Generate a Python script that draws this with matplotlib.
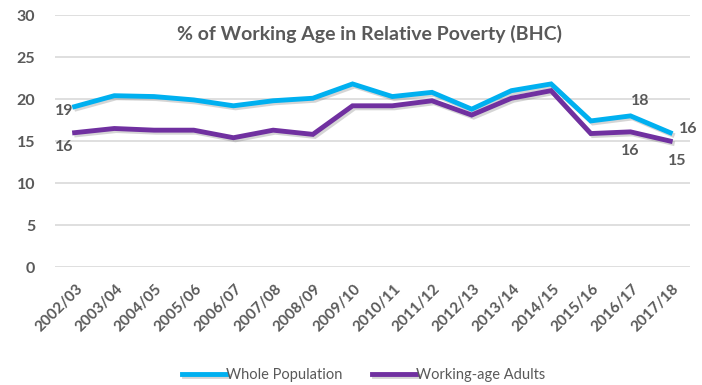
import matplotlib
matplotlib.use("Agg")
import matplotlib.pyplot as plt
import matplotlib.patheffects as pe
from matplotlib.transforms import ScaledTranslation

years = ["2002/03", "2003/04", "2004/05", "2005/06", "2006/07", "2007/08",
         "2008/09", "2009/10", "2010/11", "2011/12", "2012/13", "2013/14",
         "2014/15", "2015/16", "2016/17", "2017/18"]
whole_population = [19.1, 20.4, 20.3, 19.9, 19.2, 19.8, 20.1, 21.8,
                    20.3, 20.8, 18.8, 21.0, 21.8, 17.4, 18.0, 16.0]
working_age = [16.0, 16.5, 16.3, 16.3, 15.4, 16.3, 15.8, 19.2,
               19.2, 19.8, 18.1, 20.1, 21.0, 15.9, 16.1, 15.0]
y_ticks = [0, 5, 10, 15, 20, 25, 30]

title = "% of Working Age in Relative Poverty (BHC)"
blue = "#00B0F0"
purple = "#7030A0"
grey = "#595959"

plt.rcParams["font.family"] = ["Lato", "DejaVu Sans"]

fig = plt.figure(figsize=(7.02, 3.85), dpi=100)
ax = fig.add_axes([0.078, 0.306, 0.905, 0.655])

x = list(range(len(years)))
shadow = [pe.SimpleLineShadow(offset=(1.5, -1.5), shadow_color="#777777", alpha=0.3),
          pe.Normal()]
ax.plot(x, whole_population, color=blue, lw=3.5, solid_joinstyle="miter",
        label="Whole Population", path_effects=shadow, zorder=3)
ax.plot(x, working_age, color=purple, lw=3.5, solid_joinstyle="miter",
        label="Working-age Adults", path_effects=shadow, zorder=3)

ax.set_xlim(-0.5, len(years) - 0.5)
ax.set_ylim(0, 30)
ax.set_yticks(y_ticks)
ax.set_xticks(x)
ax.set_xticklabels(years, rotation=45, ha="right", va="center",
                   rotation_mode="anchor")
ax.tick_params(axis="both", length=0, colors=grey)
ax.tick_params(axis="y", pad=14, labelsize=11.5)
ax.tick_params(axis="x", pad=14, labelsize=11)
shift = ScaledTranslation(6 / 100, 0, fig.dpi_scale_trans)
for lbl in ax.get_xticklabels():
    lbl.set_fontweight("bold")
    lbl.set_transform(lbl.get_transform() + shift)
for lbl in ax.get_yticklabels():
    lbl.set_fontweight("bold")
ax.grid(axis="y", color="#D9D9D9", lw=1.2)
ax.set_axisbelow(True)
for s in ax.spines.values():
    s.set_visible(False)


def label(series, i, dx, dy, ha="center", va="center"):
    ax.annotate(f"{series[i]:.0f}", (x[i], series[i]), xytext=(dx, dy),
                textcoords="offset points", ha=ha, va=va, color=grey,
                fontsize=11.5, fontweight="bold")


label(whole_population, 0, -1, -3, ha="right")
label(working_age, 0, -1, -10, ha="right")
label(whole_population, 14, 7, 11)
label(whole_population, 15, 13, 3)
label(working_age, 14, 0, -14)
label(working_age, 15, 5, -14)

fig.text(0.526, 0.913, title, ha="center", va="center", color=grey,
         fontsize=14, fontweight="bold")

fig.legend(loc="center", bbox_to_anchor=(0.518, 0.027), ncol=2, frameon=False,
           fontsize=10.5, handlelength=3.0, handletextpad=0.05, columnspacing=2.0,
           labelcolor=grey)

fig.savefig("out.png", dpi=100)
